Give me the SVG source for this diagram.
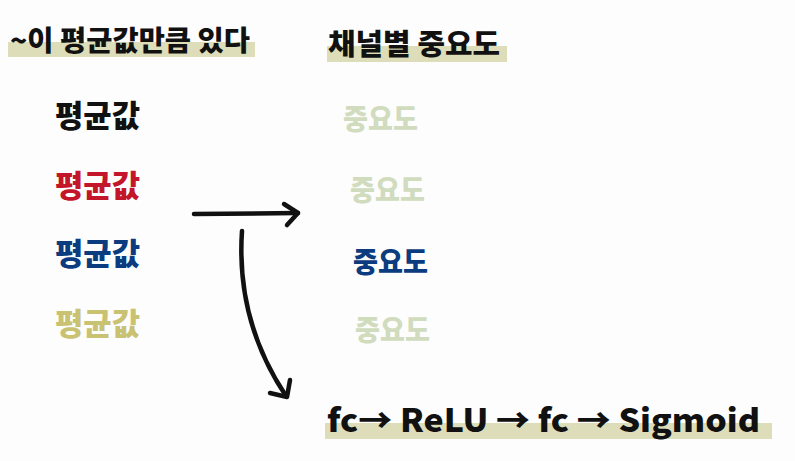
<svg xmlns="http://www.w3.org/2000/svg" width="795" height="461" viewBox="0 0 795 461">
<style>
.hl{fill:#deddb9}
.t{font-family:"Noto Sans CJK KR","Noto Sans",sans-serif;font-weight:900}
.blk{fill:#111}
.red{fill:#c4162b}
.blu{fill:#0b3c80}
.gld{fill:#c9c272}
.pale{fill:#d0dcbd}
.arr{fill:none;stroke:#111;stroke-width:4.5;stroke-linecap:round;stroke-linejoin:round}
</style>
<rect width="795" height="461" fill="#fdfdfd"/>
<g id="title-left">
<rect class="hl" x="8" y="42" width="247" height="15"/>
<text class="t blk" x="10" y="51" font-size="28" textLength="240" lengthAdjust="spacingAndGlyphs">~이 평균값만큼 있다</text>
</g>
<g id="title-right">
<rect class="hl" x="327" y="46" width="180" height="16"/>
<text class="t blk" x="328" y="55" font-size="29" textLength="172" lengthAdjust="spacingAndGlyphs">채널별 중요도</text>
</g>
<g id="mean1"><text class="t blk" x="55" y="127" font-size="31" textLength="85" lengthAdjust="spacingAndGlyphs">평균값</text></g>
<g id="mean2"><text class="t red" x="55" y="197" font-size="31" textLength="85" lengthAdjust="spacingAndGlyphs">평균값</text></g>
<g id="mean3"><text class="t blu" x="55" y="265" font-size="31" textLength="85" lengthAdjust="spacingAndGlyphs">평균값</text></g>
<g id="mean4"><text class="t gld" x="55" y="335" font-size="31" textLength="85" lengthAdjust="spacingAndGlyphs">평균값</text></g>
<g id="imp1"><text class="t pale" x="343" y="130" font-size="29" textLength="75" lengthAdjust="spacingAndGlyphs">중요도</text></g>
<g id="imp2"><text class="t pale" x="350" y="201" font-size="29" textLength="75" lengthAdjust="spacingAndGlyphs">중요도</text></g>
<g id="imp3"><text class="t blu" x="353" y="273" font-size="29" textLength="75" lengthAdjust="spacingAndGlyphs">중요도</text></g>
<g id="imp4"><text class="t pale" x="355" y="341" font-size="29" textLength="75" lengthAdjust="spacingAndGlyphs">중요도</text></g>
<g id="pipeline">
<rect class="hl" x="325" y="423" width="447" height="16"/>
<text class="t blk" x="327" y="432" font-size="32" textLength="433" lengthAdjust="spacingAndGlyphs">fc→ ReLU → fc → Sigmoid</text>
</g>
<g id="connectors">
<path class="arr" d="M194 214 L298 213"/>
<path class="arr" d="M284 204 L298 213 L287 225"/>
<path class="arr" d="M242 231 C238 290 252 345 286 396"/>
<path class="arr" d="M270 393 L287 397 L290 380"/>
</g>
</svg>
